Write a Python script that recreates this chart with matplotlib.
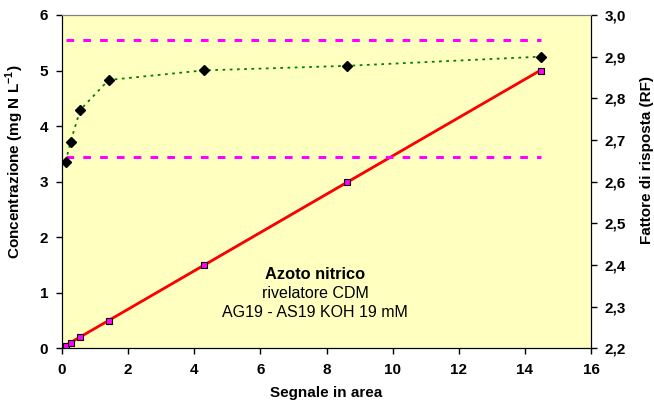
import matplotlib
matplotlib.use("Agg")
import matplotlib.pyplot as plt
import numpy as np

plt.rcParams['font.family'] = ['Liberation Sans', 'DejaVu Sans']
plt.rcParams['mathtext.fontset'] = 'custom'
plt.rcParams['mathtext.rm'] = 'Liberation Sans'
plt.rcParams['mathtext.bf'] = 'Liberation Sans:bold'

signal = [0.11, 0.26, 0.55, 1.41, 4.28, 8.63, 14.48]
conc = [0.05, 0.1, 0.2, 0.5, 1.5, 3.0, 5.0]
rf = [2.648, 2.696, 2.772, 2.844, 2.867, 2.878, 2.900]
rf_limits = [2.94, 2.66]

x_ticks = [0, 2, 4, 6, 8, 10, 12, 14, 16]
y_ticks = [0, 1, 2, 3, 4, 5, 6]
rf_ticks = [2.2, 2.3, 2.4, 2.5, 2.6, 2.7, 2.8, 2.9, 3.0]

fig = plt.figure(figsize=(6.54, 4.05), dpi=100)
ax = fig.add_axes([0.0948, 0.14, 0.809, 0.823])
ax.set_facecolor('#FFFFC0')
ax2 = ax.twinx()

# concentration series
sx = np.array(signal)
sy = np.array(conc)
ax.plot(sx, sy, color='#3333CC', lw=1.0, zorder=2)
p = np.polyfit(sx, sy, 1)
xf = np.array([sx.min(), sx.max()])
ax.plot(xf, np.polyval(p, xf), color='#FF0000', lw=2.0, zorder=3)
ax.plot(sx, sy, linestyle='none', marker='s', ms=5, mfc='#FF00FF', mec='black', mew=0.8, zorder=4)

# RF series
ax2.plot(signal, rf, color='#008000', lw=1.3, linestyle=(0, (1.5, 2.5)), zorder=2)
ax2.plot(signal, rf, linestyle='none', marker='D', ms=5.5, mfc='black', mec='black', zorder=4)
for v in rf_limits:
    ax2.plot([signal[0], signal[-1]], [v, v], color='#FF00FF', lw=2.2, linestyle=(0, (2.5, 3.0)), zorder=2)

ax.set_xlim(0, 16)
ax.set_ylim(0, 6)
ax2.set_ylim(2.2, 3.0)
ax.set_xticks(x_ticks)
ax.set_yticks(y_ticks)
ax2.set_yticks(rf_ticks)
ax2.set_yticklabels([f"{t:.1f}".replace('.', ',') for t in rf_ticks])

for a in (ax, ax2):
    a.tick_params(direction='out', length=4.5, width=1, labelsize=11)
    for lab in a.get_xticklabels() + a.get_yticklabels():
        lab.set_fontweight('bold')
ax.tick_params(axis='x', pad=6)
ax.tick_params(axis='y', pad=5.5)
ax2.tick_params(axis='y', pad=5)

for a in (ax, ax2):
    a.spines['top'].set_color('#808080')
    a.spines['left'].set_color('black')
    a.spines['bottom'].set_color('black')
    a.spines['right'].set_color('black')

ax.set_xlabel('Segnale in area', fontsize=11, fontweight='bold')
ax.set_ylabel('Concentrazione (mg N L$^{\\mathbf{-1}}$)', fontsize=11, fontweight='bold')
ax2.set_ylabel('Fattore di risposta (RF)', fontsize=11, fontweight='bold')
ax.xaxis.set_label_coords(0.5, -0.113)
ax.yaxis.set_label_coords(-0.068, 0.559)
ax2.yaxis.set_label_coords(1.092, 0.565)

ax.text(7.65, 1.32, 'Azoto nitrico', ha='center', va='center', fontsize=11.8, fontweight='bold')
ax.text(7.65, 0.99, 'rivelatore CDM', ha='center', va='center', fontsize=11.5)
ax.text(7.65, 0.65, 'AG19 - AS19 KOH 19 mM', ha='center', va='center', fontsize=11.5)

fig.savefig('out.png', dpi=100, facecolor='white')
